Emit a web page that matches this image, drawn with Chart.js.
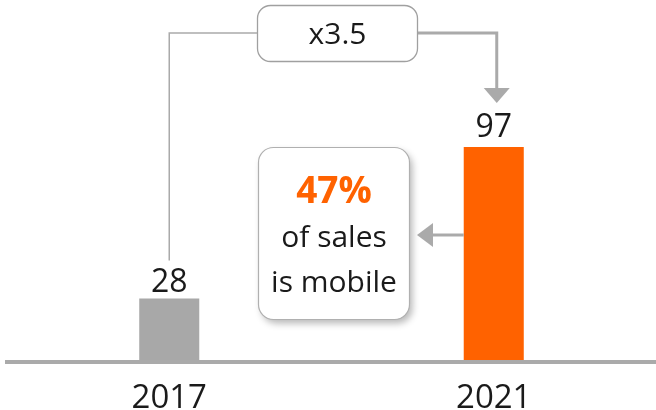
<!DOCTYPE html>
<html><head><meta charset="utf-8">
<script src="https://cdn.jsdelivr.net/npm/chart.js@4"></script>
<style>html,body{margin:0;padding:0;background:#fff}</style>
</head><body>
<canvas id="c" width="656" height="410" style="width:656px;height:410px;display:block"></canvas>
<script>
const categories = ['2017', '2021'];
const salesIndex = [28, 97];
const barColors = ['#A8A8A8', '#FF6200'];
const growthLabel = 'x3.5';
const mobileShare = '47%';
const mobileText = ['of sales', 'is mobile'];

const FONT = '"Open Sans", "Noto Sans", sans-serif';
const GREY = '#AAAAAA';
const TEXT = '#1a1a1a';

function roundRect(ctx, x, y, w, h, r) {
  ctx.beginPath();
  ctx.moveTo(x + r, y);
  ctx.lineTo(x + w - r, y);
  ctx.arcTo(x + w, y, x + w, y + r, r);
  ctx.lineTo(x + w, y + h - r);
  ctx.arcTo(x + w, y + h, x + w - r, y + h, r);
  ctx.lineTo(x + r, y + h);
  ctx.arcTo(x, y + h, x, y + h - r, r);
  ctx.lineTo(x, y + r);
  ctx.arcTo(x, y, x + r, y, r);
  ctx.closePath();
}

const annotate = {
  id: 'annotate',
  beforeDatasetsDraw(chart) {
    const ctx = chart.ctx, a = chart.chartArea;
    ctx.save();
    ctx.fillStyle = GREY;
    ctx.fillRect(a.left - 2, a.bottom, chart.width - a.left + 2, 4);
    ctx.restore();
  },
  afterDatasetsDraw(chart) {
    const ctx = chart.ctx;
    const meta = chart.getDatasetMeta(0);
    const b0 = meta.data[0], b1 = meta.data[1];
    ctx.save();
    // value labels
    ctx.fillStyle = TEXT;
    ctx.font = '32px ' + FONT;
    ctx.textAlign = 'center';
    ctx.textBaseline = 'alphabetic';
    ctx.fillText(String(salesIndex[0]), b0.x, b0.y - 7);
    ctx.fillText(String(salesIndex[1]), b1.x, b1.y - 10);

    // growth box
    const bx = 257.5, by = 5.5, bw = 160, bh = 56, midY = 33;
    ctx.strokeStyle = GREY;
    ctx.lineWidth = 1.5;
    ctx.beginPath();
    ctx.moveTo(b0.x, b0.y - 38);
    ctx.lineTo(b0.x, midY);
    ctx.lineTo(bx, midY);
    ctx.stroke();
    ctx.lineWidth = 3;
    ctx.beginPath();
    ctx.moveTo(bx + bw, midY);
    ctx.lineTo(b1.x + 3, midY);
    ctx.lineTo(b1.x + 3, 89);
    ctx.stroke();
    ctx.fillStyle = GREY;
    ctx.beginPath();
    ctx.moveTo(b1.x + 3 - 13, 88);
    ctx.lineTo(b1.x + 3 + 13, 88);
    ctx.lineTo(b1.x + 3, 103);
    ctx.closePath();
    ctx.fill();
    roundRect(ctx, bx, by, bw, bh, 13);
    ctx.fillStyle = '#fff';
    ctx.fill();
    ctx.lineWidth = 1.3;
    ctx.strokeStyle = '#A0A0A0';
    ctx.stroke();
    ctx.fillStyle = TEXT;
    ctx.font = '30px ' + FONT;
    ctx.fillText(growthLabel, bx + bw / 2, 44);

    // mobile arrow
    const leftX = b1.x - 30;
    ctx.strokeStyle = GREY;
    ctx.lineWidth = 3;
    ctx.beginPath();
    ctx.moveTo(leftX, 235);
    ctx.lineTo(432, 235);
    ctx.stroke();
    ctx.fillStyle = GREY;
    ctx.beginPath();
    ctx.moveTo(433, 223);
    ctx.lineTo(433, 247);
    ctx.lineTo(417, 235);
    ctx.closePath();
    ctx.fill();

    // mobile box
    const mx = 258.5, my = 147.5, mw = 151, mh = 172;
    ctx.save();
    ctx.shadowColor = 'rgba(0,0,0,0.28)';
    ctx.shadowBlur = 7;
    ctx.shadowOffsetX = 3;
    ctx.shadowOffsetY = 4;
    roundRect(ctx, mx, my, mw, mh, 15);
    ctx.fillStyle = '#fff';
    ctx.fill();
    ctx.restore();
    roundRect(ctx, mx, my, mw, mh, 15);
    ctx.lineWidth = 1.2;
    ctx.strokeStyle = '#B0B0B0';
    ctx.stroke();
    const cx = mx + mw / 2;
    ctx.fillStyle = barColors[1];
    ctx.font = 'bold 37px ' + FONT;
    ctx.fillText(mobileShare, cx, 203);
    ctx.fillStyle = TEXT;
    ctx.font = '30px ' + FONT;
    ctx.fillText(mobileText[0], cx, 247);
    ctx.fillText(mobileText[1], cx, 291.5);
    ctx.restore();
  }
};

new Chart(document.getElementById('c'), {
  type: 'bar',
  data: {
    labels: categories,
    datasets: [{
      data: salesIndex,
      backgroundColor: barColors,
      borderWidth: 0,
      barPercentage: 0.5,
      categoryPercentage: 0.37
    }]
  },
  options: {
    responsive: false,
    animation: false,
    layout: { padding: { left: 7, right: 0, top: 0, bottom: 0 } },
    plugins: { legend: { display: false }, tooltip: { enabled: false } },
    scales: {
      x: {
        grid: { display: false, drawTicks: false },
        border: { display: false },
        ticks: { color: TEXT, font: { family: FONT, size: 33 }, padding: 19 },
        afterFit(s) { s.height = 50; }
      },
      y: { display: false, min: 0, max: 164 }
    }
  },
  plugins: [annotate]
});
</script>
</body></html>
